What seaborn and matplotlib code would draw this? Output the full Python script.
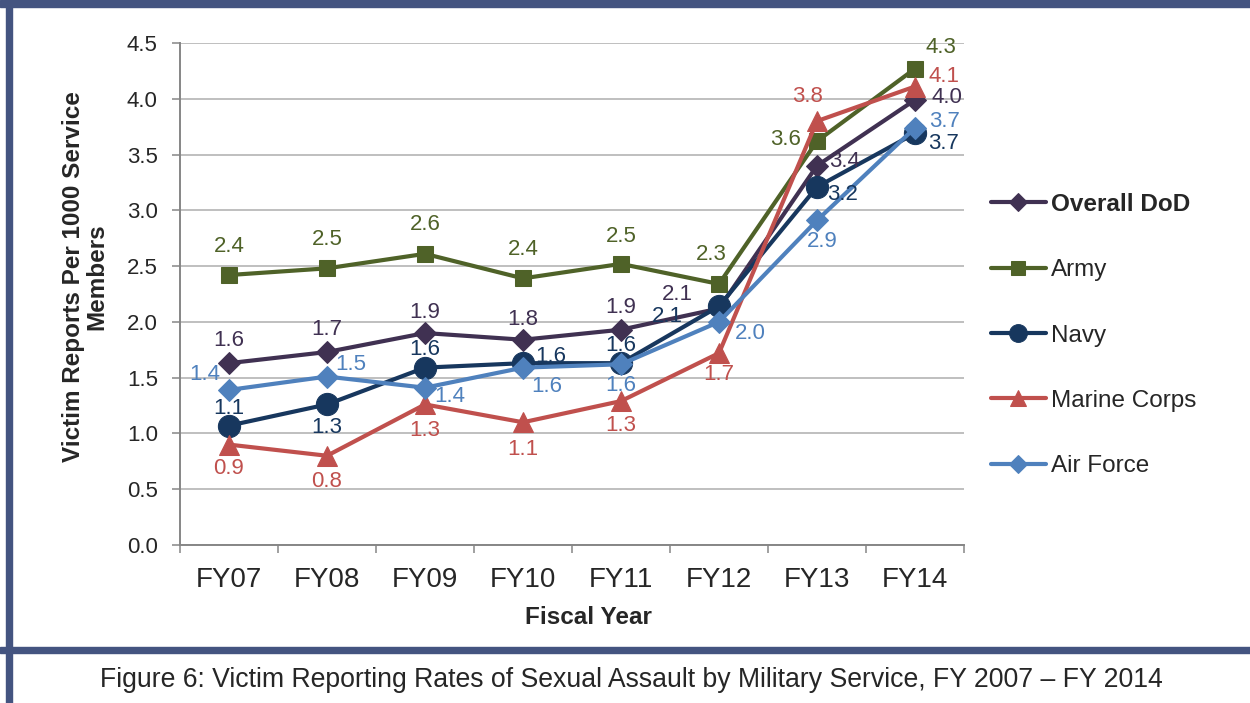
import matplotlib
matplotlib.use("Agg")
import matplotlib.pyplot as plt
from matplotlib.patches import Rectangle
import numpy as np
import pandas as pd
import seaborn as sns

# ======================
# DATA
# ======================
YEARS = ["FY07", "FY08", "FY09", "FY10", "FY11", "FY12", "FY13", "FY14"]
SERIES = ["Overall DoD", "Army", "Navy", "Marine Corps", "Air Force"]

OVERALL_DOD = [1.63, 1.73, 1.90, 1.84, 1.93, 2.12, 3.40, 3.99]
ARMY = [2.42, 2.48, 2.61, 2.39, 2.52, 2.34, 3.62, 4.27]
NAVY = [1.07, 1.26, 1.59, 1.63, 1.63, 2.14, 3.21, 3.69]
MARINE_CORPS = [0.90, 0.80, 1.26, 1.10, 1.29, 1.72, 3.80, 4.11]
AIR_FORCE = [1.39, 1.51, 1.41, 1.59, 1.62, 2.00, 2.91, 3.74]

Y_TICKS = [0.0, 0.5, 1.0, 1.5, 2.0, 2.5, 3.0, 3.5, 4.0, 4.5]

CAPTION = "Figure 6: Victim Reporting Rates of Sexual Assault by Military Service, FY 2007 \u2013 FY 2014"

# ======================
# STYLE
# ======================
COLORS = {
    "Overall DoD": "#403152",
    "Army": "#4F6228",
    "Navy": "#17375E",
    "Marine Corps": "#C0504D",
    "Air Force": "#4F81BD",
}
MARKERS = {"Overall DoD": "D", "Army": "s", "Navy": "o", "Marine Corps": "^", "Air Force": "D"}
MARKER_SIZES = {"Overall DoD": 11, "Army": 12, "Navy": 16, "Marine Corps": 15, "Air Force": 11}

# data label offsets in pixels (dx right, dy up), one per point
LABEL_OFFSETS = {
    "Overall DoD": [(0, 23), (0, 23), (0, 21), (0, 20), (0, 22), (-42, 14), (28, 4), (32, 2)],
    "Army": [(0, 29), (0, 29), (0, 29), (0, 29), (0, 27), (-8, 29), (-31, 2), (26, 21)],
    "Navy": [(0, 17), (0, -23), (0, 18), (28, 7), (0, 18), (-52, -10), (26, -8), (29, -10)],
    "Marine Corps": [(0, -24), (0, -26), (0, -26), (0, -27), (0, -24), (0, -21), (-9, 25), (29, 10)],
    "Air Force": [(-24, 15), (24, 12), (25, -9), (24, -19), (0, -21), (31, -12), (5, -21), (30, 6)],
}

BORDER = "#445480"
GRID = "#BFBFBF"
AXIS = "#868686"

sns.set_theme(style="white")
plt.rcParams["font.family"] = ["Liberation Sans", "DejaVu Sans"]

df = pd.DataFrame({
    "year": YEARS * 5,
    "service": [s for s in SERIES for _ in YEARS],
    "rate": OVERALL_DOD + ARMY + NAVY + MARINE_CORPS + AIR_FORCE,
})

# ======================
# PLOT
# ======================
fig = plt.figure(figsize=(12.5, 7.03), dpi=100)
ax = fig.add_axes([180 / 1250, 1 - 545 / 703, 784 / 1250, 502 / 703])

handles = []
for name in SERIES:
    sub = df[df["service"] == name]
    sns.lineplot(data=sub, x="year", y="rate", ax=ax, color=COLORS[name],
                 marker=MARKERS[name], markersize=MARKER_SIZES[name],
                 markeredgecolor=COLORS[name], linewidth=3, sort=False)
    handles.append(ax.lines[-1])
    for i, (v, (dx, dy)) in enumerate(zip(sub["rate"], LABEL_OFFSETS[name])):
        ax.annotate(f"{v:.1f}", (i, v), xytext=(dx * 0.72, dy * 0.72),
                    textcoords="offset points", ha="center", va="center",
                    color=COLORS[name], fontsize=16, zorder=10)

ax.set_xlim(-0.5, 7.5)
ax.set_ylim(0, 4.5)
ax.set_yticks(Y_TICKS)
ax.set_yticklabels([f"{t:.1f}" for t in Y_TICKS])
ax.set_xticks(np.arange(-0.5, 8, 1.0))
ax.set_xticklabels([""] * 9)
ax.set_xticks(range(len(YEARS)), minor=True)
ax.set_xticklabels(YEARS, minor=True)

ax.tick_params(axis="y", which="major", length=6, width=1.1, color=AXIS, pad=10,
               labelsize=16, left=True)
ax.tick_params(axis="x", which="major", length=6, width=1.1, color=AXIS, bottom=True)
ax.tick_params(axis="x", which="minor", length=0, pad=16, labelsize=20)

ax.yaxis.grid(True, color=GRID, linewidth=1.4)
ax.xaxis.grid(False)
ax.set_axisbelow(True)
for side in ["top", "right"]:
    ax.spines[side].set_visible(False)
for side in ["left", "bottom"]:
    ax.spines[side].set_color(AXIS)
    ax.spines[side].set_linewidth(1.4)

ax.set_xlabel("Fiscal Year", fontsize=17.5, fontweight="bold", va="center")
ax.xaxis.set_label_coords((588 - 180) / 784, (545 - 617) / 502)
ax.set_ylabel("Victim Reports Per 1000 Service\nMembers", fontsize=17.5,
              fontweight="bold", va="center", ha="center", linespacing=1.0)
ax.yaxis.set_label_coords((85 - 180) / 784, (545 - 277) / 502)

leg = ax.legend(handles, SERIES, loc="upper left", bbox_to_anchor=(991 / 1250, 1 - 193 / 703),
                bbox_transform=fig.transFigure, frameon=False, borderaxespad=0, borderpad=0,
                fontsize=17.5, labelspacing=1.78, handlelength=2.25, handletextpad=0.2,
                markerscale=0.8)
leg.get_texts()[0].set_fontweight("bold")

# frame bands and caption
fig.add_artist(Rectangle((0, 1 - 7 / 703), 1, 7 / 703, transform=fig.transFigure,
                         color=BORDER, zorder=0))
fig.add_artist(Rectangle((6 / 1250, 0), 6 / 1250, 1, transform=fig.transFigure,
                         color=BORDER, zorder=0))
fig.add_artist(Rectangle((0, 1 - 653 / 703), 1, 6 / 703, transform=fig.transFigure,
                         color=BORDER, zorder=0))
fig.text(631 / 1250, 1 - 680 / 703, CAPTION, ha="center", va="center", fontsize=19.2)

fig.savefig("out.png", dpi=100)
